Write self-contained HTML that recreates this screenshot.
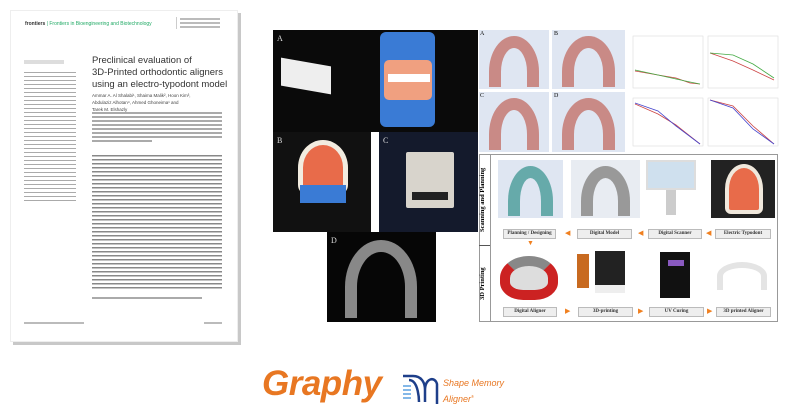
<!DOCTYPE html>
<html><head><meta charset="utf-8"><style>
*{margin:0;padding:0;box-sizing:border-box}
body{width:790px;height:418px;background:#fff;position:relative;overflow:hidden;font-family:"Liberation Sans",sans-serif}
.a{position:absolute}
.lbl{position:absolute;background:#eee;border:1px solid #bbb;font-family:"Liberation Serif",serif;font-weight:bold;font-size:5px;color:#333;text-align:center;line-height:8px;height:10px}
.arr{position:absolute;color:#f08020;font-size:7px;line-height:8px}
.tx{position:absolute;height:1.5px;background:#aaa}
.dent{position:absolute;background:#dfe6f2}
.arch{position:absolute;left:10px;top:6px;right:10px;bottom:2px;border:12px solid #c98a86;border-bottom:none;border-radius:50% 50% 0 0/70% 70% 0 0;}
.vt{position:absolute;writing-mode:vertical-rl;transform:rotate(180deg);font:bold 6.5px 'Liberation Serif',serif;text-align:center;white-space:nowrap;width:11px}
</style></head><body>
<!-- paper -->
<div class="a" style="left:13px;top:13px;width:228px;height:332px;background:#c8c8c8"></div>
<div class="a" style="left:10px;top:10px;width:228px;height:332px;background:#fff;border:1px solid #eee"></div>
<div class="a" style="left:25px;top:21px;font-size:5px;color:#2a6"><b style="color:#333">frontiers</b> | <span style="color:#2a6">Frontiers in Bioengineering and Biotechnology</span></div>
<div class="a" style="left:92px;top:55px;font-size:9.5px;line-height:12px;color:#333">Preclinical evaluation of<br>3D-Printed orthodontic aligners<br>using an electro-typodont model</div>
<div class="a" style="left:92px;top:92px;font-size:4.5px;line-height:7px;color:#444">Ammar A. Al Shalabi¹, Shaima Malik², Hoon Kim³,<br>Abdulaziz Alhotan⁴, Ahmed Ghoneima¹ and<br>Tarek M. Elshazly</div>
<div class="tx" style="left:92px;top:112px;width:130px"></div><div class="tx" style="left:92px;top:116px;width:130px"></div><div class="tx" style="left:92px;top:120px;width:130px"></div><div class="tx" style="left:92px;top:124px;width:130px"></div><div class="tx" style="left:92px;top:128px;width:130px"></div><div class="tx" style="left:92px;top:132px;width:130px"></div><div class="tx" style="left:92px;top:136px;width:130px"></div><div class="tx" style="left:92px;top:140px;width:60px"></div>
<div class="a" style="left:92px;top:155px;width:130px;height:135px;background:repeating-linear-gradient(#888 0 1.5px,transparent 1.5px 4px)"></div>
<div class="a" style="left:24px;top:60px;width:40px;height:4px;background:#ddd"></div>
<div class="a" style="left:24px;top:72px;width:52px;height:130px;background:repeating-linear-gradient(#aaa 0 1.2px,transparent 1.2px 4px)"></div>
<div class="tx" style="left:92px;top:297px;width:110px"></div>
<div class="tx" style="left:24px;top:322px;width:60px;background:#bbb"></div>
<div class="tx" style="left:204px;top:322px;width:18px;background:#bbb"></div>
<div class="a" style="left:176px;top:17px;width:1px;height:12px;background:#ccc"></div>
<div class="tx" style="left:180px;top:18px;width:40px;background:#bbb"></div><div class="tx" style="left:180px;top:22px;width:40px;background:#bbb"></div><div class="tx" style="left:180px;top:26px;width:40px;background:#bbb"></div>
<!-- photos -->
<div class="a" style="left:273px;top:30px;width:205px;height:102px;background:#0a0a0a"></div>
<div class="a" style="left:281px;top:62px;width:50px;height:28px;background:#eee;transform:skewY(10deg)"></div>
<div class="a" style="left:380px;top:32px;width:55px;height:95px;background:#3a7bd5;border-radius:6px"></div>
<div class="a" style="left:384px;top:60px;width:48px;height:40px;background:#f0a080;border-radius:5px"></div>
<div class="a" style="left:388px;top:74px;width:42px;height:8px;background:#fff"></div>
<div class="a" style="left:277px;top:34px;color:#ddd;font:8px 'Liberation Serif',serif">A</div>
<div class="a" style="left:273px;top:132px;width:98px;height:100px;background:#111"></div>
<div class="a" style="left:298px;top:140px;width:50px;height:55px;background:#e86b4a;border:5px solid #f2ece0;border-bottom:none;border-radius:50% 50% 10px 10px"></div>
<div class="a" style="left:300px;top:185px;width:46px;height:18px;background:#3a7bd5"></div>
<div class="a" style="left:277px;top:136px;color:#ddd;font:8px 'Liberation Serif',serif">B</div>
<div class="a" style="left:379px;top:132px;width:99px;height:100px;background:#141a2c"></div>
<div class="a" style="left:406px;top:152px;width:48px;height:56px;background:#d8d4cc;border-radius:2px"></div>
<div class="a" style="left:412px;top:192px;width:36px;height:8px;background:#222"></div>
<div class="a" style="left:383px;top:136px;color:#ddd;font:8px 'Liberation Serif',serif">C</div>
<div class="a" style="left:327px;top:232px;width:109px;height:90px;background:#060606"></div>
<div class="a" style="left:345px;top:240px;width:72px;height:78px;border:12px solid #888;border-bottom:none;border-radius:50% 50% 0 0/60% 60% 0 0"></div>
<div class="a" style="left:331px;top:236px;color:#ddd;font:8px 'Liberation Serif',serif">D</div>
<!-- dental -->
<div class="dent" style="left:479px;top:30px;width:70px;height:59px"><div class="arch"></div></div>
<div class="dent" style="left:552px;top:30px;width:73px;height:59px"><div class="arch"></div></div>
<div class="dent" style="left:479px;top:92px;width:70px;height:60px"><div class="arch"></div></div>
<div class="dent" style="left:552px;top:92px;width:73px;height:60px"><div class="arch"></div></div>
<div class="a" style="left:480px;top:31px;font:6px 'Liberation Serif',serif">A</div><div class="a" style="left:554px;top:31px;font:6px 'Liberation Serif',serif">B</div><div class="a" style="left:480px;top:93px;font:6px 'Liberation Serif',serif">C</div><div class="a" style="left:554px;top:93px;font:6px 'Liberation Serif',serif">D</div>
<!-- graphs -->
<svg class="a" style="left:628px;top:28px" width="152" height="126">
<g stroke="#ddd" fill="none" stroke-width=".6"><rect x="5" y="8" width="70" height="52"/><rect x="80" y="8" width="70" height="52"/><rect x="5" y="70" width="70" height="48"/><rect x="80" y="70" width="70" height="48"/></g>
<polyline points="7,43 30,47 48,50 62,55 72,56" stroke="#c44" fill="none" stroke-width=".8"/><polyline points="7,42 30,47 48,51 62,54 72,56" stroke="#4a4" fill="none" stroke-width=".8"/>
<polyline points="82,25 105,33 125,42 146,52" stroke="#c44" fill="none" stroke-width=".8"/><polyline points="82,25 105,27 125,36 146,50" stroke="#4a4" fill="none" stroke-width=".8"/>
<polyline points="7,76 30,86 48,97 72,116" stroke="#c44" fill="none" stroke-width=".8"/><polyline points="7,75 30,83 48,98 72,116" stroke="#44c" fill="none" stroke-width=".8"/>
<polyline points="82,72 105,78 125,98 146,116" stroke="#c44" fill="none" stroke-width=".8"/><polyline points="82,72 105,80 125,101 146,116" stroke="#44c" fill="none" stroke-width=".8"/>
</svg>
<!-- workflow box -->
<div class="a" style="left:479px;top:154px;width:299px;height:168px;border:1px solid #999;background:#fff"></div>
<div class="a" style="left:479px;top:245px;width:12px;height:1px;background:#555"></div>
<div class="a" style="left:490px;top:154px;width:1px;height:168px;background:#999"></div>
<div class="vt" style="left:479px;top:156px;height:88px">Scanning and Planning</div>
<div class="vt" style="left:479px;top:247px;height:73px">3D Printing</div>
<div class="dent" style="left:498px;top:160px;width:65px;height:58px"><div class="arch" style="border-color:#6aa;"></div></div>
<div class="dent" style="left:571px;top:160px;width:69px;height:58px;background:#e8ecf2"><div class="arch" style="border-color:#999"></div></div>
<div class="a" style="left:646px;top:160px;width:50px;height:30px;background:#cfe0ee;border:2px solid #ddd"></div>
<div class="a" style="left:666px;top:190px;width:10px;height:25px;background:#ccc"></div>
<div class="a" style="left:711px;top:160px;width:64px;height:58px;background:#222"><div class="a" style="left:14px;top:4px;width:38px;height:50px;background:#e86b4a;border:4px solid #f0e8dc;border-radius:50% 50% 6px 6px"></div></div>
<div class="lbl" style="left:503px;top:229px;width:53px">Planning / Designing</div>
<div class="lbl" style="left:577px;top:229px;width:55px">Digital Model</div>
<div class="lbl" style="left:648px;top:229px;width:54px">Digital Scanner</div>
<div class="lbl" style="left:715px;top:229px;width:56px">Electric Typodont</div>
<div class="arr" style="left:565px;top:230px">◀</div><div class="arr" style="left:638px;top:230px">◀</div><div class="arr" style="left:706px;top:230px">◀</div>
<div class="arr" style="left:527px;top:240px">▼</div>
<div class="a" style="left:500px;top:256px;width:58px;height:44px;border:10px solid #c22;border-top-color:#888;border-radius:50% 50% 40% 40%;background:#ddd"></div>
<div class="a" style="left:577px;top:254px;width:12px;height:34px;background:#c86a20"></div>
<div class="a" style="left:595px;top:251px;width:30px;height:42px;background:#222;border-bottom:8px solid #eee"></div>
<div class="a" style="left:660px;top:252px;width:30px;height:46px;background:#111"></div>
<div class="a" style="left:668px;top:260px;width:16px;height:6px;background:#8a5ac0"></div>
<div class="a" style="left:717px;top:262px;width:50px;height:28px;border:6px solid #e4e4e4;border-bottom:none;border-radius:50% 50% 0 0"></div>
<div class="lbl" style="left:503px;top:307px;width:54px">Digital Aligner</div>
<div class="lbl" style="left:578px;top:307px;width:55px">3D-printing</div>
<div class="lbl" style="left:649px;top:307px;width:55px">UV Curing</div>
<div class="lbl" style="left:716px;top:307px;width:55px">3D printed Aligner</div>
<div class="arr" style="left:565px;top:308px">▶</div><div class="arr" style="left:638px;top:308px">▶</div><div class="arr" style="left:707px;top:308px">▶</div>
<!-- logos -->
<div class="a" style="left:262px;top:364px;font:italic bold 35px 'Liberation Sans',sans-serif;color:#e87722;letter-spacing:-0.5px">Graphy</div>
<svg class="a" style="left:399px;top:372px" width="42" height="34"><path d="M4 4 H14 C22 4 26 10 26 18 V30 M10 8 C20 8 20 30 20 30 M26 18 C26 6 36 4 38 12 V32" stroke="#1e3f8a" stroke-width="2.5" fill="none"/><g stroke="#5aa0e0" stroke-width="1.5"><line x1="4" y1="14" x2="12" y2="14"/><line x1="4" y1="18" x2="12" y2="18"/><line x1="4" y1="22" x2="12" y2="22"/><line x1="4" y1="26" x2="12" y2="26"/></g></svg>
<div class="a" style="left:443px;top:377px;font:italic 9px/13px 'Liberation Sans',sans-serif;color:#e87722">Shape Memory<br>Aligner<sup style="font-size:4px">®</sup></div>
</body></html>
